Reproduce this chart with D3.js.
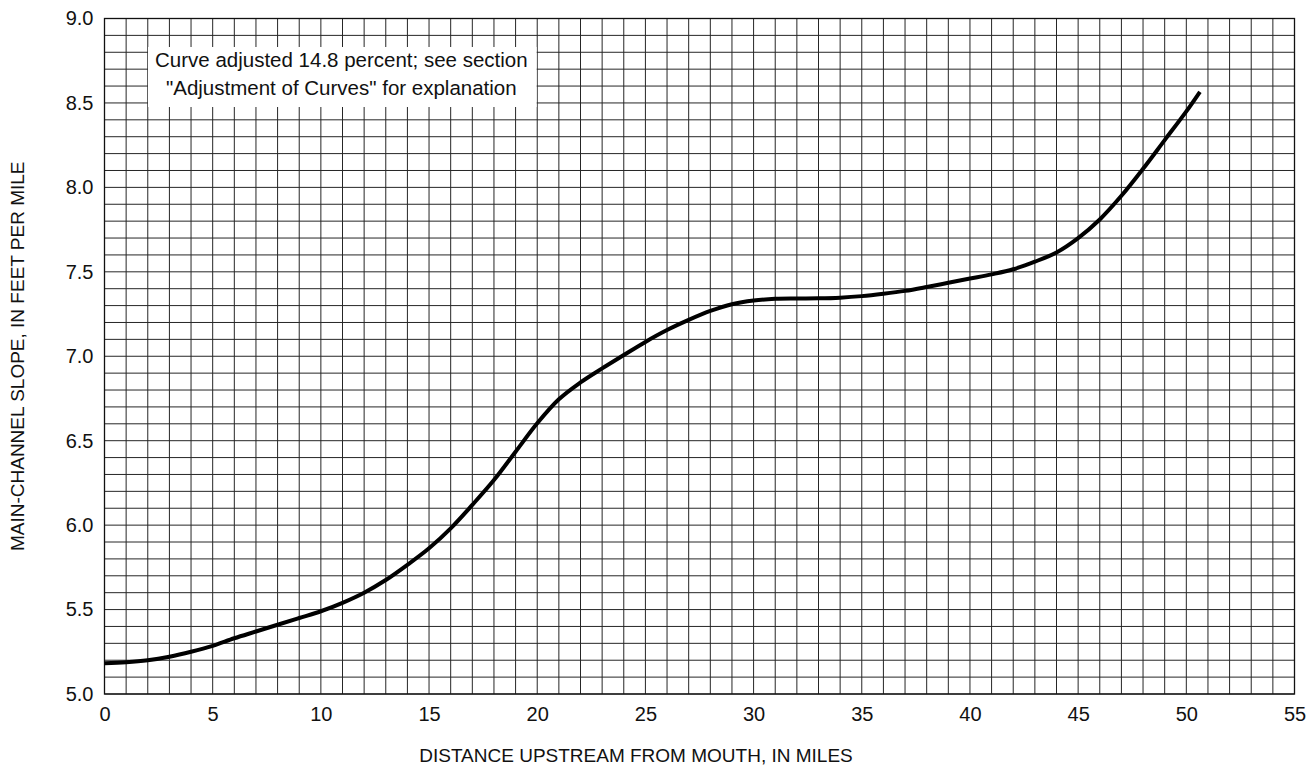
<!DOCTYPE html>
<html>
<head>
<meta charset="utf-8">
<script src="https://cdn.jsdelivr.net/npm/d3@7"></script>
<style>
  html, body { margin: 0; padding: 0; background: #fff; }
  svg { display: block; }
  text { font-family: "Liberation Sans", Arial, Helvetica, sans-serif; fill: #111; }
</style>
</head>
<body>
<svg id="chart" width="1316" height="777"></svg>
<script>
// ---- data ----
const miles = [0, 1, 2, 3, 4, 5, 6, 7, 8, 9, 10, 11, 12, 13, 14, 15, 16, 17, 18, 19, 20,
  21, 22, 23, 24, 25, 26, 27, 28, 29, 30, 31, 32, 33, 34, 35, 36, 37, 38, 39, 40,
  41, 42, 43, 44, 45, 46, 47, 48, 49, 50, 50.63];
const slope = [5.182, 5.188, 5.20, 5.221, 5.25, 5.285, 5.33, 5.37, 5.41, 5.45, 5.49,
  5.54, 5.60, 5.675, 5.765, 5.863, 5.981, 6.12, 6.267, 6.435, 6.603,
  6.745, 6.845, 6.928, 7.007, 7.085, 7.155, 7.215, 7.268, 7.308, 7.33, 7.34, 7.342, 7.343, 7.347, 7.356, 7.37, 7.387, 7.41, 7.435, 7.46,
  7.485, 7.515, 7.56, 7.615, 7.70, 7.81, 7.95, 8.11, 8.28, 8.45, 8.566];
const xTicks = [0, 5, 10, 15, 20, 25, 30, 35, 40, 45, 50, 55];
const yTicks = [5.0, 5.5, 6.0, 6.5, 7.0, 7.5, 8.0, 8.5, 9.0];
const xLabel = "DISTANCE UPSTREAM FROM MOUTH, IN MILES";
const yLabel = "MAIN-CHANNEL SLOPE, IN FEET PER MILE";
const noteLines = ["Curve adjusted 14.8 percent; see section", "\"Adjustment of Curves\" for explanation"];

// ---- layout ----
const L = 104.5, R = 1294.5, T = 18.5, B = 694;
const svg = d3.select("#chart");
const x = d3.scaleLinear().domain([0, 55]).range([L, R]);
const y = d3.scaleLinear().domain([5, 9]).range([B, T]);

const gridColor = "#262626";
// grid
const g = svg.append("g");
g.selectAll("line.v").data(d3.range(0, 56)).enter().append("line")
  .attr("x1", d => x(d)).attr("x2", d => x(d)).attr("y1", T).attr("y2", B)
  .attr("stroke", gridColor).attr("stroke-width", 1);
g.selectAll("line.h").data(d3.range(0, 41).map(i => 5 + i * 0.1)).enter().append("line")
  .attr("y1", d => y(d)).attr("y2", d => y(d)).attr("x1", L).attr("x2", R)
  .attr("stroke", gridColor).attr("stroke-width", 1);
g.append("rect").attr("x", L).attr("y", T).attr("width", R - L).attr("height", B - T)
  .attr("fill", "none").attr("stroke", "#111").attr("stroke-width", 1.3);

// annotation box
const note = svg.append("g");
const noteText = note.selectAll("text").data(noteLines).enter().append("text")
  .attr("x", 0).attr("y", (d, i) => 67 + i * 28)
  .attr("text-anchor", "middle").attr("font-size", 20.5).text(d => d);
const w0 = noteText.nodes()[0].getComputedTextLength();
const cx = 155 + w0 / 2;
noteText.attr("x", cx);
note.insert("rect", "text").attr("x", 148).attr("y", 47).attr("width", w0 + 16).attr("height", 60).attr("fill", "#fff");

// axes
const xAxis = d3.axisBottom(x).tickValues(xTicks).tickSize(0).tickPadding(13).tickFormat(d3.format("d"));
const xa = svg.append("g").attr("transform", `translate(0,${B})`).call(xAxis);
const yAxis = d3.axisLeft(y).tickValues(yTicks).tickSize(0).tickPadding(11).tickFormat(d3.format(".1f"));
const ya = svg.append("g").attr("transform", `translate(${L},0)`).call(yAxis);
[xa, ya].forEach(a => {
  a.select(".domain").remove();
  a.selectAll("text").attr("font-size", 20).attr("font-family", "Liberation Sans, Arial, sans-serif").attr("fill", "#111");
});

// axis titles
svg.append("text").attr("x", 636).attr("y", 762).attr("text-anchor", "middle")
  .attr("font-size", 19).text(xLabel);
svg.append("text").attr("transform", `translate(24,${(T + B) / 2}) rotate(-90)`)
  .attr("text-anchor", "middle").attr("font-size", 19).text(yLabel);

// curve
const line = d3.line().x((d, i) => x(miles[i])).y(d => y(d)).curve(d3.curveCatmullRom.alpha(0.5));
svg.append("path").datum(slope).attr("d", line)
  .attr("fill", "none").attr("stroke", "#000").attr("stroke-width", 4).attr("stroke-linecap", "butt");
</script>
</body>
</html>
